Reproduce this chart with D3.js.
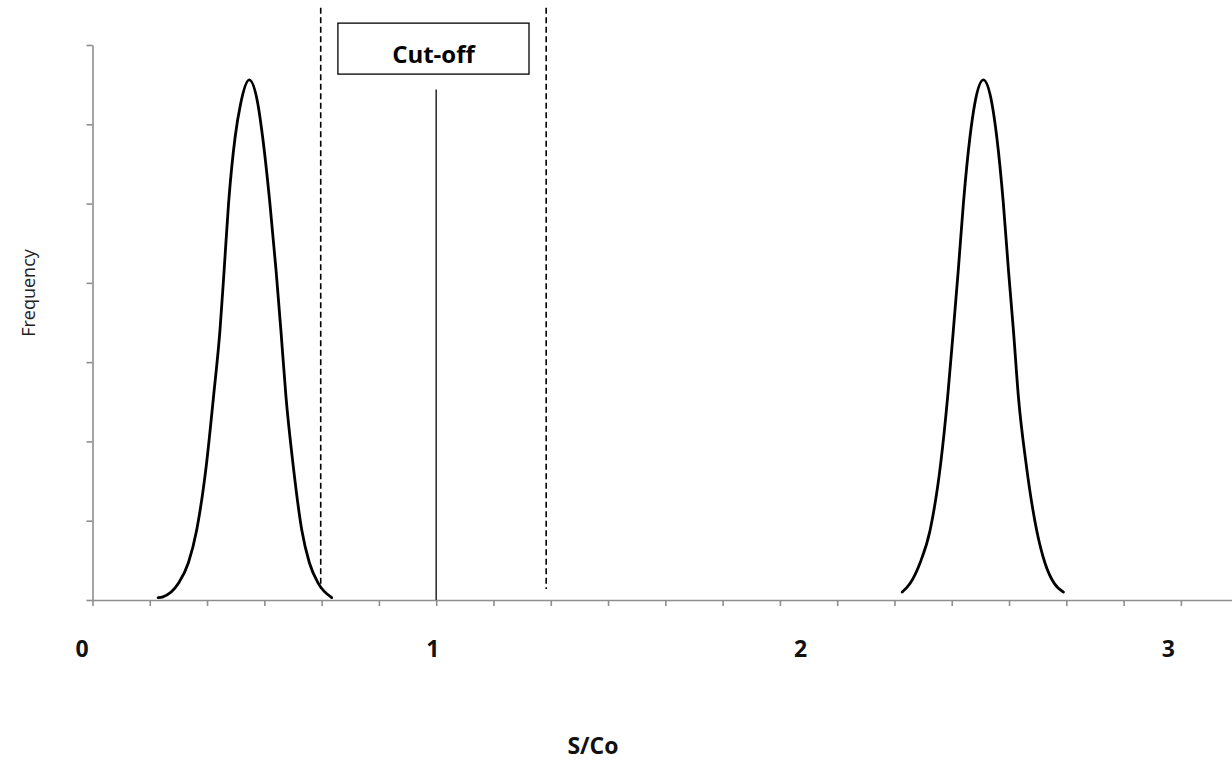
<!DOCTYPE html>
<html>
<head>
<meta charset="utf-8">
<script src="https://cdn.jsdelivr.net/npm/d3@7"></script>
<style>
  body { margin: 0; background: #fff; }
  svg { display: block; }
</style>
</head>
<body>
<div id="chart-area"></div>
<script>
// negative group (left peak)
var negX = [0.191, 0.205, 0.250, 0.279, 0.303, 0.332, 0.352, 0.371, 0.383, 0.396, 0.415, 0.431, 0.456,
            0.481, 0.495, 0.516, 0.534, 0.548, 0.563, 0.583, 0.609, 0.631, 0.657, 0.696];
var negY = [0.03, 0.04, 0.21, 0.47, 0.88, 1.73, 2.56, 3.41, 4.16, 5.01, 5.84, 6.26, 6.56,
            6.26, 5.84, 5.01, 4.16, 3.41, 2.56, 1.73, 0.88, 0.47, 0.21, 0.03];

// positive group (right peak)
var posX = [2.356, 2.379, 2.408, 2.437, 2.468, 2.488, 2.504, 2.519, 2.534, 2.553, 2.567, 2.592,
            2.617, 2.631, 2.650, 2.665, 2.680, 2.694, 2.716, 2.747, 2.771, 2.798, 2.825];
var posY = [0.10, 0.21, 0.47, 0.88, 1.73, 2.56, 3.37, 4.16, 5.01, 5.84, 6.26, 6.56,
            6.26, 5.84, 5.01, 4.16, 3.37, 2.56, 1.73, 0.88, 0.47, 0.21, 0.10];

var cutoff = 1;
var cutoffTop = 6.44;
var greyZone = [0.664, 1.32];
var greyTop = 7.47, greyBottom = 0.14;
var boxX = [0.714, 1.270];
var boxY = [6.633, 7.276];

var tickLabels = ["0", "1", "2", "3"];
var tickLabelPos = [-0.03, 0.99, 2.06, 3.13];
var minorTicks = d3.range(0, 20).map(function(i) { return i / 6; });
var yTicks = d3.range(0, 8);

var width = 1232, height = 765;

var svg = d3.select("#chart-area").append("svg")
    .attr("width", width)
    .attr("height", height);

var x = d3.scaleLinear()
    .domain([0, 3])
    .range([92.5, 1123.6]);

var y = d3.scaleLinear()
    .domain([0, 7])
    .range([600, 45]);

// x axis, runs off the right edge like the original
var xLong = x.copy().domain([0, 3.4]).range([x(0), x(3.4)]);
svg.append("g")
    .attr("transform", "translate(0," + y(0) + ")")
    .call(d3.axisBottom(xLong).tickValues(minorTicks).tickSize(6).tickSizeOuter(0).tickFormat(""));

svg.append("g")
    .attr("transform", "translate(" + x(0) + ",0)")
    .call(d3.axisLeft(y).tickValues(yTicks).tickSize(6).tickSizeOuter(0).tickFormat(""));

svg.selectAll(".domain, .tick line")
    .attr("stroke", "#8e8e8e")
    .attr("stroke-width", 1.6);

// tick labels sit off the ticks in the source
svg.selectAll(".xlab").data(tickLabels)
    .enter().append("text")
        .attr("class", "xlab")
        .attr("x", function(d, i) { return x(tickLabelPos[i]); })
        .attr("y", 657)
        .attr("text-anchor", "middle")
        .attr("font-family", "Open Sans, sans-serif")
        .attr("font-weight", "bold")
        .attr("font-size", 23)
        .attr("fill", "#111")
        .text(function(d) { return d; });

svg.append("text")
    .attr("x", 593)
    .attr("y", 754)
    .attr("text-anchor", "middle")
    .attr("font-family", "Open Sans, sans-serif")
    .attr("font-weight", "bold")
    .attr("font-size", 23)
    .attr("fill", "#111")
    .text("S/Co");

svg.append("text")
    .attr("transform", "translate(35,293) rotate(-90)")
    .attr("text-anchor", "middle")
    .attr("font-family", "Open Sans, sans-serif")
    .attr("font-size", 18)
    .attr("fill", "#222")
    .text("Frequency");

// grey zone dashed lines
svg.selectAll(".grey").data(greyZone)
    .enter().append("line")
        .attr("class", "grey")
        .attr("x1", function(d) { return x(d); })
        .attr("x2", function(d) { return x(d); })
        .attr("y1", y(greyTop))
        .attr("y2", y(greyBottom))
        .attr("stroke", "#000")
        .attr("stroke-width", 1.6)
        .attr("stroke-dasharray", "6,3.5");

// cut-off line
svg.append("line")
    .attr("x1", x(cutoff)).attr("x2", x(cutoff))
    .attr("y1", y(cutoffTop)).attr("y2", y(0))
    .attr("stroke", "#333")
    .attr("stroke-width", 1.6);

svg.append("rect")
    .attr("x", x(boxX[0]))
    .attr("y", y(boxY[1]))
    .attr("width", x(boxX[1]) - x(boxX[0]))
    .attr("height", y(boxY[0]) - y(boxY[1]))
    .attr("fill", "#fff")
    .attr("stroke", "#000")
    .attr("stroke-width", 1.3);

svg.append("text")
    .attr("x", (x(boxX[0]) + x(boxX[1])) / 2)
    .attr("y", 63)
    .attr("text-anchor", "middle")
    .attr("font-family", "Open Sans, sans-serif")
    .attr("font-weight", "bold")
    .attr("font-size", 24)
    .attr("fill", "#000")
    .text("Cut-off");

var line = d3.line()
    .x(function(d) { return x(d[0]); })
    .y(function(d) { return y(d[1]); })
    .curve(d3.curveMonotoneX);

[[negX, negY], [posX, posY]].forEach(function(s) {
    var pts = s[0].map(function(v, i) { return [v, s[1][i]]; });
    svg.append("path")
        .datum(pts)
        .attr("d", line)
        .attr("fill", "none")
        .attr("stroke", "#000")
        .attr("stroke-width", 2.8)
        .attr("stroke-linejoin", "round")
        .attr("stroke-linecap", "round");
});
</script>
</body>
</html>
